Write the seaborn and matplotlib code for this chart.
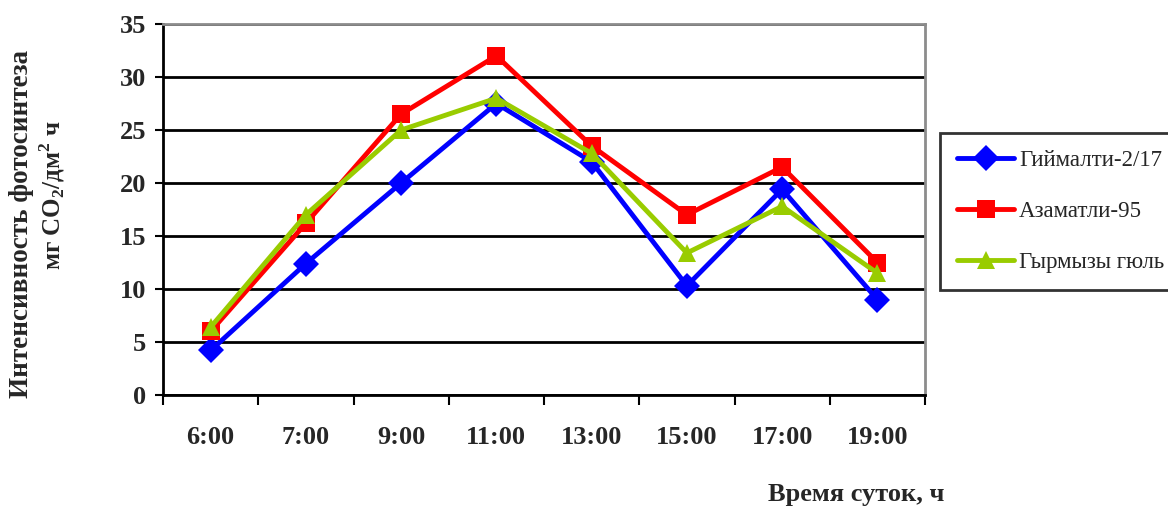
import matplotlib
matplotlib.use("Agg")
import matplotlib.pyplot as plt
import numpy as np
import pandas as pd
import seaborn as sns

# Time of day and photosynthesis intensity for three cultivars
hours = ["6:00", "7:00", "9:00", "11:00", "13:00", "15:00", "17:00", "19:00"]
giymatli = [4.2, 12.4, 20.0, 27.5, 22.0, 10.3, 19.4, 9.0]
azamatli = [6.0, 16.2, 26.5, 32.0, 23.5, 17.0, 21.5, 12.5]
gyrmyzy = [6.4, 17.0, 25.0, 28.0, 22.8, 13.4, 17.8, 11.5]
series_names = ["Гиймалти-2/17", "Азаматли-95", "Гырмызы гюль"]

df = pd.concat([
    pd.DataFrame({"hour": hours, "pos": np.arange(len(hours)), "value": vals, "sort": name})
    for name, vals in zip(series_names, [giymatli, azamatli, gyrmyzy])
], ignore_index=True)

sns.set_theme(style="white")
plt.rcParams["font.family"] = ["Liberation Serif", "DejaVu Serif"]
plt.rcParams["mathtext.fontset"] = "custom"
plt.rcParams["mathtext.rm"] = "Liberation Serif"
plt.rcParams["mathtext.bf"] = "Liberation Serif:bold"

fig = plt.figure(figsize=(11.68, 5.09), dpi=100)
ax = fig.add_axes([163 / 1168, 1 - 395 / 509, (925 - 163) / 1168, (395 - 24) / 509])

palette = {series_names[0]: "#0000FF", series_names[1]: "#FF0000", series_names[2]: "#99CC00"}
markers = {series_names[0]: "D", series_names[1]: "s", series_names[2]: "^"}

sns.lineplot(data=df, x="pos", y="value", hue="sort", style="sort",
             palette=palette, markers=markers, dashes=False,
             linewidth=3.5, markersize=13.5, markeredgewidth=0, ax=ax, legend=True)

ax.set_xlim(-0.5, len(hours) - 0.5)
ax.set_ylim(0, 35)
ax.set_yticks(np.arange(0, 36, 5))
ax.set_xticks(np.arange(len(hours)))
ax.set_xticklabels(hours)
ax.set_xticks(np.arange(-0.5, len(hours), 1), minor=True)
ax.tick_params(axis="x", which="major", length=0, pad=22, labelsize=19)
ax.tick_params(axis="x", which="minor", length=7, width=1.5, direction="out", color="black", bottom=True)
ax.tick_params(axis="y", which="major", length=6, width=1.5, direction="out", color="black",
               left=True, pad=6, labelsize=19)
for lbl in ax.get_xticklabels() + ax.get_yticklabels():
    lbl.set_fontweight("bold")

ax.grid(axis="y", color="black", linewidth=2)
ax.grid(axis="x", visible=False)
ax.set_axisbelow(True)
for side in ["left", "bottom"]:
    ax.spines[side].set_color("black")
    ax.spines[side].set_linewidth(2)
for side in ["top", "right"]:
    ax.spines[side].set_color("#8c8c8c")
    ax.spines[side].set_linewidth(2)
ax.set_xlabel("")
ax.set_ylabel("")

fig.text(22 / 1168, 1 - 224 / 509, "Интенсивность фотосинтеза", rotation=90,
         ha="center", va="center", fontsize=19.5, fontweight="bold")
fig.text(52 / 1168, 1 - 195 / 509, r"мг CO$_\mathbf{2}$/дм$^\mathbf{2}$ ч", rotation=90,
         ha="center", va="center", fontsize=18, fontweight="bold")
fig.text(856 / 1168, 1 - 495 / 509, "Время суток, ч", ha="center", va="center",
         fontsize=19, fontweight="bold")

handles, labels = ax.get_legend_handles_labels()
leg = ax.legend(handles, labels, loc="upper left", bbox_to_anchor=(940 / 1168, 1 - 133 / 509),
                bbox_transform=fig.transFigure, frameon=True, fancybox=False,
                fontsize=16.5, handlelength=2.5, labelspacing=1.3, borderpad=0.75,
                handletextpad=0.2, borderaxespad=0)
leg.get_frame().set_edgecolor("black")
leg.get_frame().set_linewidth(2)

fig.savefig("out.png", dpi=100)
